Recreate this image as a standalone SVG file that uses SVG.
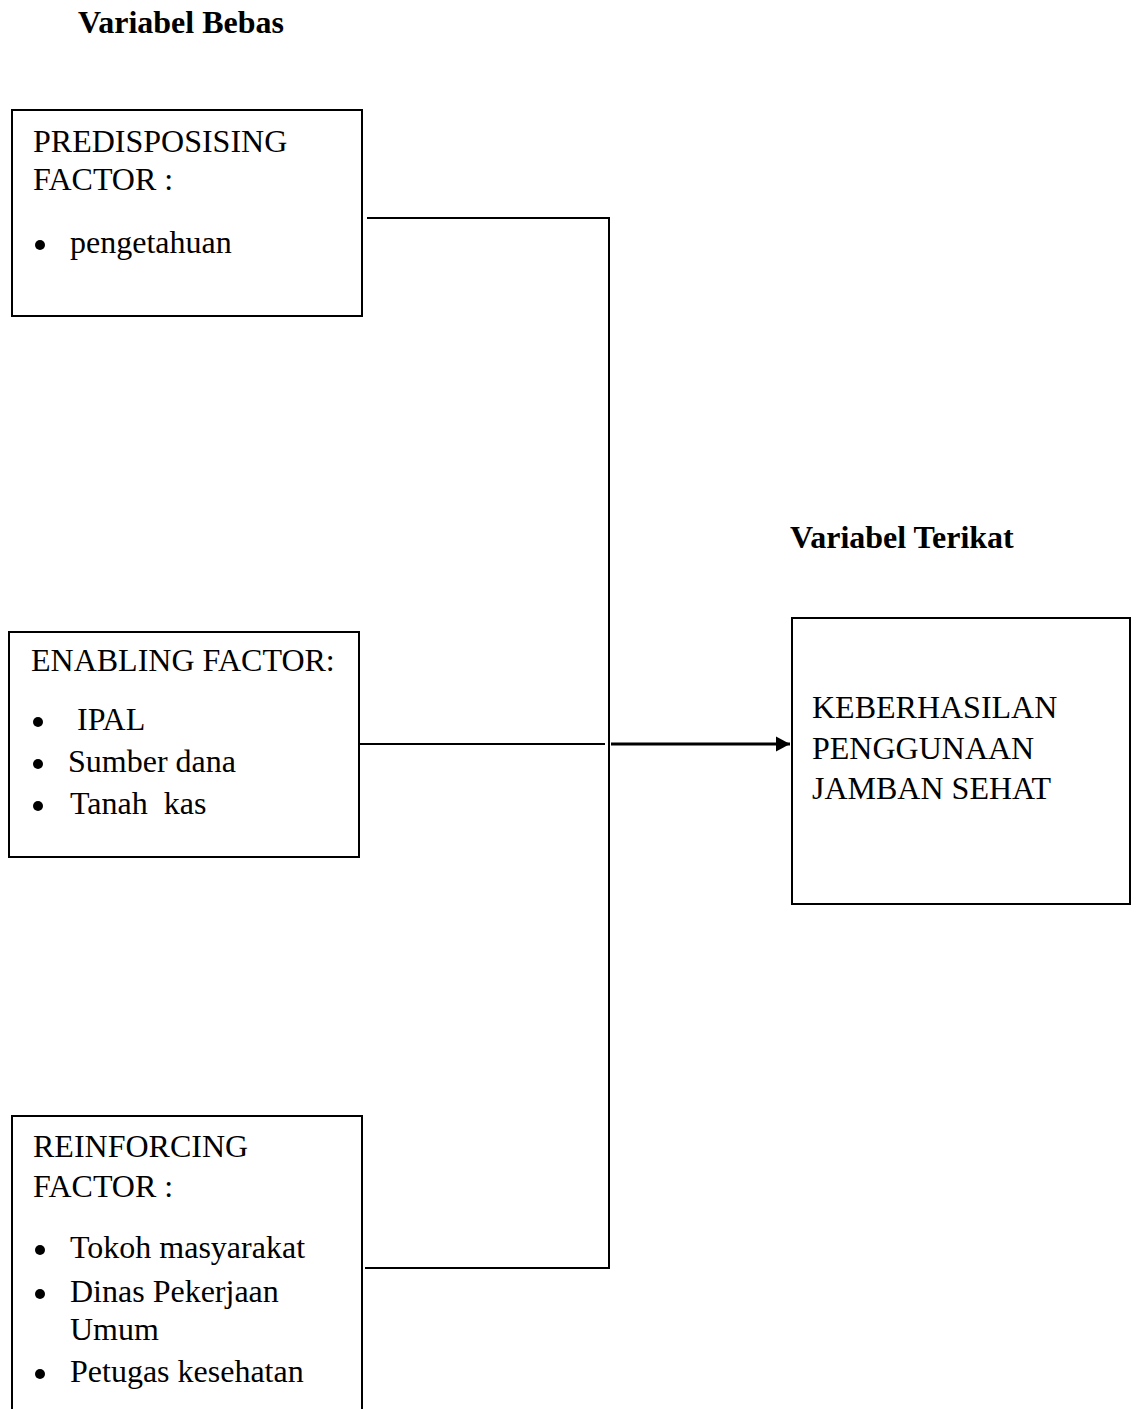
<svg xmlns="http://www.w3.org/2000/svg" width="1136" height="1409" viewBox="0 0 1136 1409">
<style>
text{font-family:"Liberation Serif","Times New Roman",serif;font-size:32px;fill:#000;white-space:pre}
.h{font-weight:bold}
.box{fill:#fff;stroke:#000;stroke-width:2}
.ln{fill:none;stroke:#000;stroke-width:2}
.b{fill:#000}
</style>
<defs>
<marker id="ah" markerWidth="15" markerHeight="16" refX="14" refY="8" orient="auto" markerUnits="userSpaceOnUse">
<path d="M0,0.5 L14,8 L0,15.5 Z" fill="#000"/>
</marker>
</defs>
<rect width="1136" height="1409" fill="#fff"/>
<text class="h" x="78" y="33">Variabel Bebas</text>
<text class="h" x="790" y="548">Variabel Terikat</text>
<g id="connectors">
<polyline class="ln" points="367,218 609,218 609,1268 365,1268"/>
<line class="ln" x1="359" y1="744" x2="605" y2="744"/>
<line x1="611" y1="744" x2="790" y2="744" stroke="#000" stroke-width="3" marker-end="url(#ah)"/>
</g>
<g id="predisposing">
<rect class="box" x="12" y="110" width="350" height="206"/>
<text x="33" y="152">PREDISPOSISING</text>
<text x="33" y="190">FACTOR :</text>
<circle class="b" cx="40" cy="245" r="5"/>
<text x="70" y="253">pengetahuan</text>
</g>
<g id="enabling">
<rect class="box" x="9" y="632" width="350" height="225"/>
<text x="31" y="671">ENABLING FACTOR:</text>
<circle class="b" cx="38" cy="722" r="5"/>
<text x="77" y="730">IPAL</text>
<circle class="b" cx="38" cy="764" r="5"/>
<text x="68" y="772">Sumber dana</text>
<circle class="b" cx="38" cy="806" r="5"/>
<text x="70" y="814">Tanah  kas</text>
</g>
<g id="reinforcing">
<path class="ln" d="M12,1409 L12,1116 L362,1116 L362,1409"/>
<text x="33" y="1157">REINFORCING</text>
<text x="33" y="1197">FACTOR :</text>
<circle class="b" cx="40" cy="1250" r="5"/>
<text x="70" y="1258">Tokoh masyarakat</text>
<circle class="b" cx="40" cy="1294" r="5"/>
<text x="70" y="1302">Dinas Pekerjaan</text>
<text x="70" y="1340">Umum</text>
<circle class="b" cx="40" cy="1374" r="5"/>
<text x="70" y="1382">Petugas kesehatan</text>
</g>
<g id="keberhasilan">
<rect class="box" x="792" y="618" width="338" height="286"/>
<text x="812" y="718">KEBERHASILAN</text>
<text x="812" y="759">PENGGUNAAN</text>
<text x="812" y="799">JAMBAN SEHAT</text>
</g>
</svg>
